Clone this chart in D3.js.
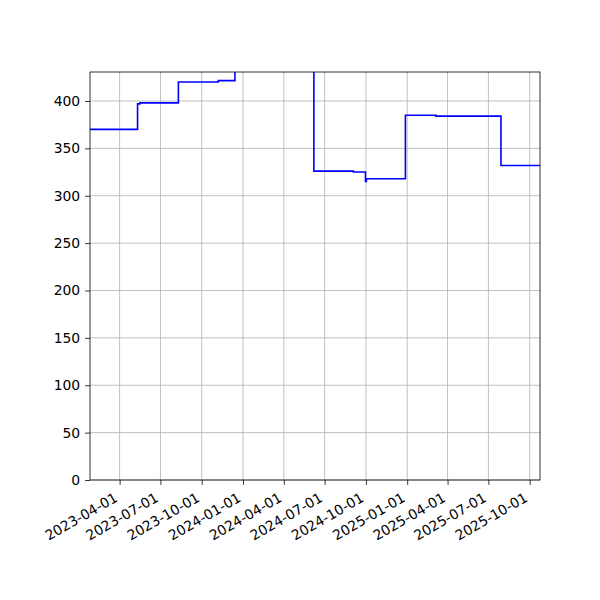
<!DOCTYPE html>
<html>
<head>
<meta charset="utf-8">
<script src="https://cdn.jsdelivr.net/npm/d3@7"></script>
<style>
  body { margin: 0; background: #fff; }
  text { font-family: "DejaVu Sans", sans-serif; }
</style>
</head>
<body>
<svg id="chart" width="600" height="600"></svg>
<script>
// step dates (value holds from this date until the next one)
const stepDates = ["2023-01-25", "2023-05-11", "2023-05-16", "2023-08-10", "2023-11-07",
    "2023-12-14", "2024-06-07", "2024-09-03", "2024-09-30", "2024-10-02",
    "2024-12-28", "2025-03-06", "2025-07-29", "2025-10-24"];
const stepValues = [370, 397, 398, 420, 421.5,
    460, 326, 325, 315, 318,
    385, 384, 332, 332];

const xTicks = ["2023-04-01", "2023-07-01", "2023-10-01", "2024-01-01", "2024-04-01",
    "2024-07-01", "2024-10-01", "2025-01-01", "2025-04-01", "2025-07-01", "2025-10-01"];
const yTicks = [0, 50, 100, 150, 200, 250, 300, 350, 400];

const xDomain = ["2023-01-25", "2025-10-24"];
const yDomain = [0, 430.6];

const margin = {top: 72, right: 60, bottom: 120, left: 90};
const width = 600 - margin.left - margin.right;
const height = 600 - margin.top - margin.bottom;

const parse = d3.timeParse("%Y-%m-%d");
const data = stepDates.map((d, i) => ({date: parse(d), value: stepValues[i]}));

const svg = d3.select("#chart");
const g = svg.append("g").attr("transform", `translate(${margin.left},${margin.top})`);

let x = d3.scaleTime().domain(xDomain.map(parse)).range([0, width]);
let y = d3.scaleLinear().domain(yDomain).range([height, 0]);

// grid
g.append("g").selectAll("line").data(xTicks.map(parse)).enter().append("line")
    .attr("x1", d => x(d)).attr("x2", d => x(d))
    .attr("y1", 0).attr("y2", height)
    .attr("stroke", "#b0b0b0").attr("stroke-width", 0.8);
g.append("g").selectAll("line").data(yTicks).enter().append("line")
    .attr("x1", 0).attr("x2", width)
    .attr("y1", d => y(d)).attr("y2", d => y(d))
    .attr("stroke", "#b0b0b0").attr("stroke-width", 0.8);

// clip to the axes box
svg.append("defs").append("clipPath").attr("id", "clip")
    .append("rect").attr("width", width).attr("height", height);

let line = d3.line()
    .x(d => x(d.date))
    .y(d => y(d.value))
    .curve(d3.curveStepAfter);

g.append("path")
    .datum(data)
    .attr("clip-path", "url(#clip)")
    .attr("fill", "none")
    .attr("stroke", "#0000ff")
    .attr("stroke-width", 1.6)
    .attr("d", line);

// axes
let xAxis = g.append("g")
    .attr("transform", `translate(0,${height})`)
    .call(d3.axisBottom(x).tickValues(xTicks.map(parse)).tickFormat(d3.timeFormat("%Y-%m-%d"))
        .tickSize(4.9).tickPadding(4.9));
xAxis.select(".domain").remove();
xAxis.selectAll("line").attr("stroke", "#000").attr("stroke-width", 0.8);
xAxis.selectAll("text")
    .attr("font-size", 13.9)
    .attr("fill", "#000")
    .style("text-anchor", "end")
    .attr("dy", "0")
    .attr("y", 0)
    .attr("transform", "translate(-1.5,20.5) rotate(-30)");

let yAxis = g.append("g")
    .call(d3.axisLeft(y).tickValues(yTicks).tickSize(4.9).tickPadding(4.9));
yAxis.select(".domain").remove();
yAxis.selectAll("line").attr("stroke", "#000").attr("stroke-width", 0.8);
yAxis.selectAll("text").attr("font-size", 13.9).attr("fill", "#000");

// frame
g.append("rect")
    .attr("width", width).attr("height", height)
    .attr("fill", "none").attr("stroke", "#000").attr("stroke-width", 0.8);
</script>
</body>
</html>
